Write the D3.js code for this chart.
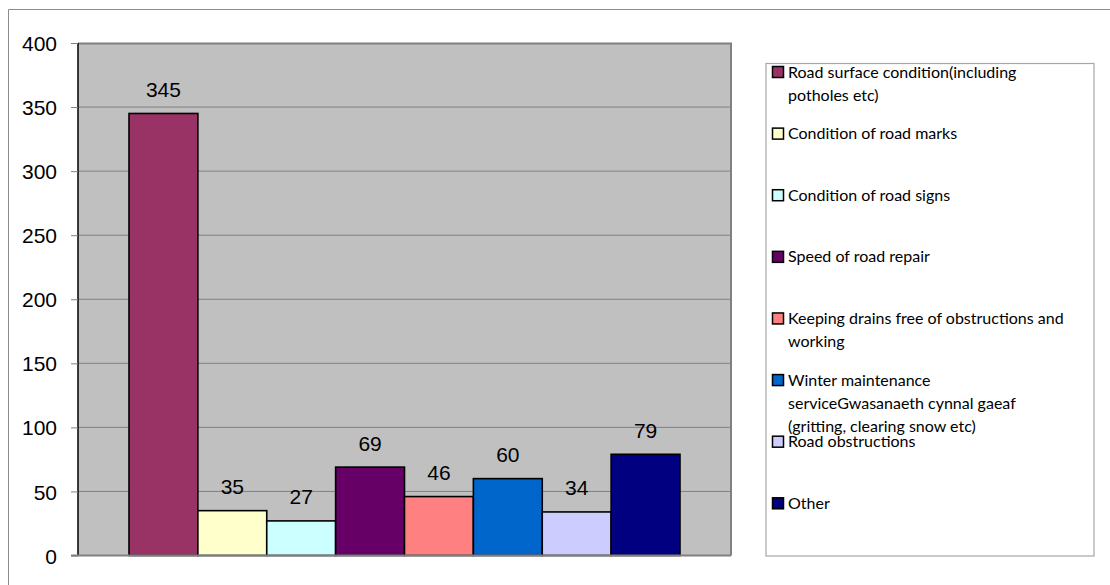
<!DOCTYPE html>
<html>
<head>
<meta charset="utf-8">
<script src="https://cdn.jsdelivr.net/npm/d3@7"></script>
<style>
  html, body { margin: 0; padding: 0; background: #fff; }
  svg { display: block; }
</style>
</head>
<body>
<svg id="chart" width="1110" height="585"></svg>
<script>
// Complaint categories and their counts
const categories = [
  "Road surface condition(including potholes etc)",
  "Condition of road marks",
  "Condition of road signs",
  "Speed of road repair",
  "Keeping drains free of obstructions and working",
  "Winter maintenance serviceGwasanaeth cynnal gaeaf (gritting, clearing snow etc)",
  "Road obstructions",
  "Other"
];
const values = [345, 35, 27, 69, 46, 60, 34, 79];
const colors = ["#993366", "#FFFFCC", "#CCFFFF", "#660066", "#FF8080", "#0066CC", "#CCCCFF", "#000080"];
const yTicks = [0, 50, 100, 150, 200, 250, 300, 350, 400];
// Legend text, pre-wrapped into lines
const legendLines = [
  ["Road surface condition(including", "potholes etc)"],
  ["Condition of road marks"],
  ["Condition of road signs"],
  ["Speed of road repair"],
  ["Keeping drains free of obstructions and", "working"],
  ["Winter maintenance", "serviceGwasanaeth cynnal gaeaf", "(gritting, clearing snow etc)"],
  ["Road obstructions"],
  ["Other"]
];

const svg = d3.select("#chart");
const W = 1110, H = 585;

// Chart area frame
svg.append("path")
  .attr("d", `M8.5,${H} V9.5 H${W}`)
  .attr("fill", "none").attr("stroke", "#8c8c8c").attr("stroke-width", 1);

const plot = { left: 78, right: 731, top: 43, bottom: 555.5 };

const y = d3.scaleLinear().domain([0, 400]).range([plot.bottom, plot.top]);
const x = d3.scaleBand().domain(d3.range(values.length))
  .range([129, 680]).paddingInner(0).paddingOuter(0);

// Plot background
svg.append("rect")
  .attr("x", plot.left).attr("y", plot.top)
  .attr("width", plot.right - plot.left).attr("height", plot.bottom - plot.top)
  .attr("fill", "#C0C0C0");

// Gridlines
svg.append("g").selectAll("line")
  .data(yTicks.filter(d => d > 0 && d < 400))
  .join("line")
  .attr("x1", plot.left).attr("x2", plot.right)
  .attr("y1", d => y(d)).attr("y2", d => y(d))
  .attr("stroke", "#808080").attr("stroke-width", 1);

// Plot border (top and right)
svg.append("path")
  .attr("d", `M${plot.left},${plot.top + 0.5} H${plot.right} V${plot.bottom}`)
  .attr("fill", "none").attr("stroke", "#808080").attr("stroke-width", 2);

// Bars
svg.append("g").selectAll("rect")
  .data(values)
  .join("rect")
  .attr("x", (d, i) => x(i))
  .attr("y", d => y(d))
  .attr("width", x.bandwidth())
  .attr("height", d => y(0) - y(d))
  .attr("fill", (d, i) => colors[i])
  .attr("stroke", "#000").attr("stroke-width", 1.6);

// Value labels
svg.append("g").selectAll("text")
  .data(values)
  .join("text")
  .attr("x", (d, i) => x(i) + x.bandwidth() / 2)
  .attr("y", d => y(d) - 16.5)
  .attr("text-anchor", "middle")
  .attr("font-family", "Liberation Sans, Arial, sans-serif")
  .attr("font-size", 21)
  .attr("fill", "#000")
  .text(d => d);

// Y axis
const yAxis = d3.axisLeft(y).tickValues(yTicks).tickSize(7).tickPadding(14);
const gy = svg.append("g")
  .attr("transform", `translate(${plot.left},0)`)
  .call(yAxis);
gy.select(".domain").attr("stroke", "#000").attr("stroke-width", 1.5)
  .attr("d", `M0,${plot.top}V${plot.bottom}`);
gy.selectAll(".tick line").attr("stroke", "#808080");
gy.selectAll(".tick text")
  .attr("font-family", "Liberation Sans, Arial, sans-serif")
  .attr("font-size", 21)
  .attr("fill", "#000")
  .attr("dy", "0.36em");
// Baseline
svg.append("line")
  .attr("x1", plot.left - 7).attr("x2", plot.right)
  .attr("y1", plot.bottom).attr("y2", plot.bottom)
  .attr("stroke", "#808080").attr("stroke-width", 2);
svg.selectAll("g rect").raise();
svg.selectAll("g text").raise();

// Legend
const legend = svg.append("g");
legend.append("rect")
  .attr("x", 766).attr("y", 63.5).attr("width", 328).attr("height", 492.5)
  .attr("fill", "#fff").attr("stroke", "#a6a6a6").attr("stroke-width", 1.2);

// Fit legend font so the longest line spans its measured width
const legendFamily = "Lato, 'Open Sans', sans-serif";
const probe = document.createElement("canvas").getContext("2d");
probe.font = `100px Lato`;
const refW = probe.measureText("Keeping drains free of obstructions and").width;
const legendSize = Math.min(16, 100 * 300 / refW);

const itemY = d3.scaleLinear().domain([0, 7]).range([72, 503.3]);
const lineH = 23.3;
const items = legend.selectAll("g.item")
  .data(legendLines)
  .join("g").attr("class", "item")
  .attr("transform", (d, i) => `translate(0,${itemY(i)})`);
items.append("rect")
  .attr("x", 772.5).attr("y", -5.5).attr("width", 11).attr("height", 11)
  .attr("fill", (d, i) => colors[i])
  .attr("stroke", "#000").attr("stroke-width", 1.5);
items.each(function(lines) {
  d3.select(this).selectAll("text")
    .data(lines)
    .join("text")
    .attr("x", 788)
    .attr("y", (d, j) => j * lineH)
    .attr("dy", "0.35em")
    .attr("font-family", legendFamily)
    .attr("font-size", legendSize)
    .attr("fill", "#000")
    .text(d => d);
});
</script>
</body>
</html>
